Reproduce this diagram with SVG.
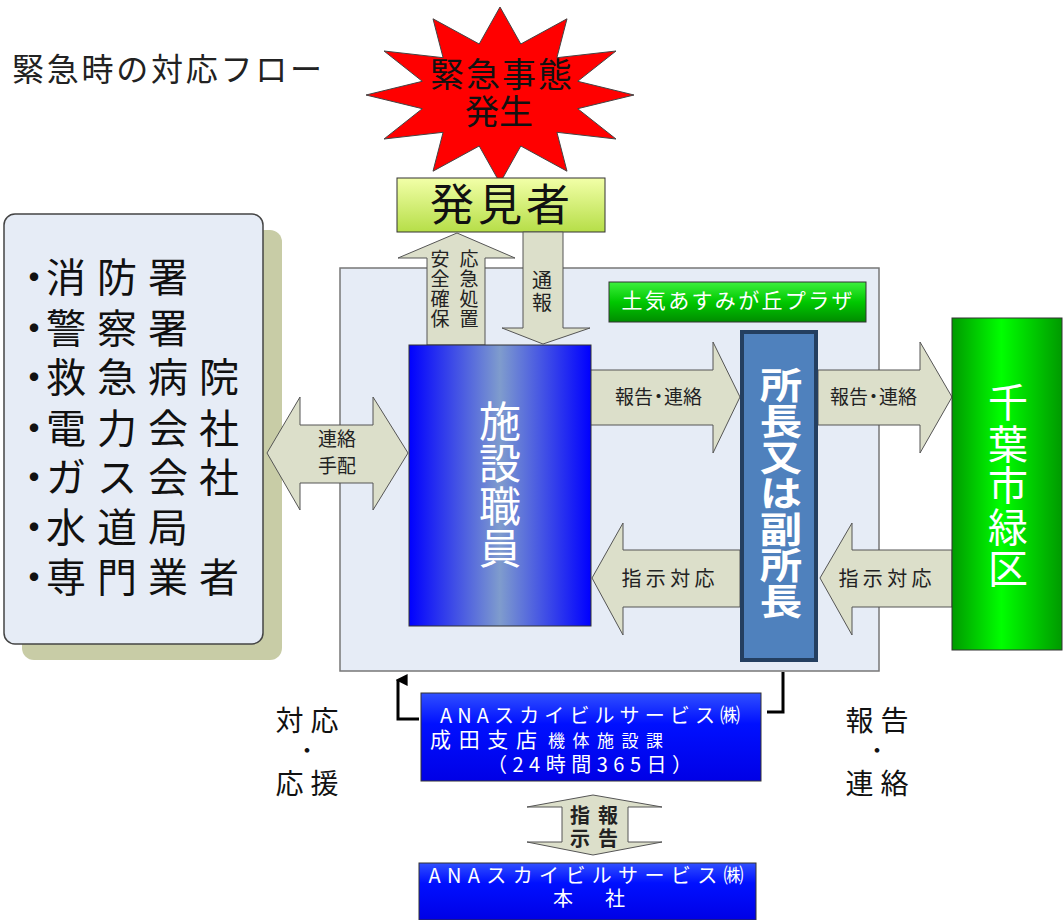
<svg xmlns="http://www.w3.org/2000/svg" width="1064" height="920" viewBox="0 0 1064 920">
<defs>
<linearGradient id="gStaff" x1="0" y1="0" x2="1" y2="0">
<stop offset="0" stop-color="#0000ff"/><stop offset="0.5" stop-color="#7f9ccd"/><stop offset="1" stop-color="#0000ff"/>
</linearGradient>
<linearGradient id="gCity" x1="0" y1="0" x2="1" y2="0">
<stop offset="0" stop-color="#009a00"/><stop offset="0.45" stop-color="#00ff00"/><stop offset="1" stop-color="#009a00"/>
</linearGradient>
<linearGradient id="gPlaza" x1="0" y1="0" x2="0" y2="1">
<stop offset="0" stop-color="#3cf03c"/><stop offset="0.5" stop-color="#00c800"/><stop offset="1" stop-color="#008c00"/>
</linearGradient>
<linearGradient id="gFinder" x1="0" y1="0" x2="0" y2="1">
<stop offset="0" stop-color="#f2ffa8"/><stop offset="1" stop-color="#b6de48"/>
</linearGradient>
<linearGradient id="gAna" x1="0" y1="0" x2="0" y2="1">
<stop offset="0" stop-color="#3050ff"/><stop offset="0.35" stop-color="#0010ff"/><stop offset="1" stop-color="#0000e6"/>
</linearGradient>
<marker id="mUp" viewBox="0 0 10 10" refX="5" refY="2" markerWidth="4" markerHeight="4" orient="auto-start-reverse" markerUnits="strokeWidth">
<path d="M0,10 L5,0 L10,10 Z" fill="#000"/>
</marker>
<style>
text{font-family:"Noto Sans CJK JP","Noto Sans",sans-serif;}
.vert{writing-mode:vertical-rl;}
.arrow{fill:#dcdfca;stroke:#555;stroke-width:1;}
.alabel{font-size:19px;fill:#222;}
.white{fill:#fff;}
.box{stroke:#333;stroke-width:1;}
.list{font-size:40px;fill:#111;letter-spacing:11px;}
.conn{fill:none;stroke:#000;stroke-width:3;}
</style>
</defs>
<rect width="1064" height="920" fill="#fff"/>

<text id="title" x="12" y="81" font-size="32" fill="#222" textLength="310" lengthAdjust="spacing">緊急時の対応フロー</text>

<g id="outside-agencies">
<rect x="22" y="230" width="260" height="430" rx="12" fill="#c8cca6"/>
<rect x="4" y="214" width="259" height="430" rx="11" fill="#e6ecf6" stroke="#444" stroke-width="1.5"/>
<text class="list" x="14" y="292">・<tspan dx="-19">消防署</tspan></text>
<text class="list" x="14" y="343">・<tspan dx="-19">警察署</tspan></text>
<text class="list" x="14" y="392">・<tspan dx="-19">救急病院</tspan></text>
<text class="list" x="14" y="443">・<tspan dx="-19">電力会社</tspan></text>
<text class="list" x="14" y="492">・<tspan dx="-19">ガス会社</tspan></text>
<text class="list" x="14" y="542">・<tspan dx="-19">水道局</tspan></text>
<text class="list" x="14" y="592">・<tspan dx="-19">専門業者</tspan></text>
</g>

<g id="facility-panel">
<rect x="340" y="268" width="539" height="403" fill="#e6ecf6" stroke="#777" stroke-width="1.5"/>
</g>

<g id="emergency">
<polygon points="500,7 520.8,44 567,18.8 556.9,57.7 616,51 577.7,81.3 634,95 577.7,108.7 616,139 556.9,132.3 567,171.2 520.8,146 500,183 479.2,146 433,171.2 443.1,132.3 384,139 422.3,108.7 366,95 422.3,81.3 384,51 443.1,57.7 433,18.8 479.2,44" fill="#ff0000" stroke="#444" stroke-width="1"/>
<text x="501" y="87" font-size="34" text-anchor="middle" fill="#111" textLength="142" lengthAdjust="spacing">緊急事態</text>
<text x="499" y="124" font-size="34" text-anchor="middle" fill="#111">発生</text>
</g>

<g id="finder">
<rect class="box" x="397" y="178" width="208" height="54" fill="url(#gFinder)"/>
<text x="500" y="221" font-size="44" text-anchor="middle" fill="#111" textLength="140" lengthAdjust="spacing">発見者</text>
</g>

<g id="plaza">
<rect class="box" x="609" y="282" width="257" height="40" fill="url(#gPlaza)"/>
<text x="737" y="308" font-size="21" text-anchor="middle" class="white" textLength="231" lengthAdjust="spacing">土気あすみが丘プラザ</text>
</g>

<g id="connectors">
<polygon class="arrow" points="457,233 515,258 485,258 485,345 427,345 427,258 398,258"/>
<text class="vert" x="440" y="249.5" font-size="19" fill="#222" letter-spacing="1">安全確保</text>
<text class="vert" x="469" y="249.5" font-size="19" fill="#222" letter-spacing="1">応急処置</text>

<polygon class="arrow" points="523,232 563,232 563,328 590,328 543,344 502,328 523,328"/>
<text class="vert" x="542" y="270" font-size="20" fill="#222" letter-spacing="2">通報</text>

<polygon class="arrow" points="267,453 300,397 300,425 373,425 373,397 408,453 373,510 373,483 300,483 300,510"/>
<text font-size="19" fill="#222" text-anchor="middle"><tspan x="337" y="446">連絡</tspan><tspan x="337" y="473">手配</tspan></text>

<polygon class="arrow" points="590,370 713,370 713,342 740,397 713,453 713,425 590,425"/>
<text class="alabel" x="615" y="404">報告<tspan dx="-4">・</tspan><tspan dx="-4">連絡</tspan></text>
<polygon class="arrow" points="818,370 920,370 920,342 952,397 920,453 920,425 818,425"/>
<text class="alabel" x="830" y="404">報告<tspan dx="-4">・</tspan><tspan dx="-4">連絡</tspan></text>

<polygon class="arrow" points="740,550 623,550 623,523 592,578 623,635 623,607 740,607"/>
<text x="668" y="586" font-size="20" fill="#222" text-anchor="middle" textLength="93" lengthAdjust="spacing">指示対応</text>
<polygon class="arrow" points="952,550 852,550 852,523 820,578 852,635 852,607 952,607"/>
<text x="885" y="586" font-size="20" fill="#222" text-anchor="middle" textLength="93" lengthAdjust="spacing">指示対応</text>

<path class="conn" d="M419,719 L398,719 L398,680" marker-end="url(#mUp)"/>
<path class="conn" d="M767,712 L783,712 L783,672"/>

<polygon class="arrow" points="593,795 662,807 628,807 628,842 662,842 593,855 527,842 562,842 562,807 527,807"/>
<text class="vert" x="580" y="805" font-size="20" font-weight="bold" fill="#222" letter-spacing="3">指示</text>
<text class="vert" x="608" y="805" font-size="20" font-weight="bold" fill="#222" letter-spacing="3">報告</text>
</g>

<g id="staff">
<rect class="box" x="409" y="345" width="182" height="281" fill="url(#gStaff)"/>
<text class="vert white" x="500" y="400" font-size="42" letter-spacing="0.5">施設職員</text>
</g>

<g id="director">
<rect x="742" y="332" width="74" height="328" fill="#4f81bd" stroke="#243f60" stroke-width="4"/>
<g transform="translate(781,0) scale(1.18,1)">
<text class="vert white" x="0" y="367" font-size="36" font-weight="bold">所長又は副所長</text>
</g>
</g>

<g id="city">
<rect class="box" x="952" y="318" width="110" height="332" fill="url(#gCity)"/>
<text class="vert white" x="1008" y="382" font-size="40" letter-spacing="1.5">千葉市緑区</text>
</g>

<g id="ana-branch">
<rect class="box" x="421" y="693" width="340" height="88" fill="url(#gAna)"/>
<text x="590" y="723" font-size="20" text-anchor="middle" class="white" textLength="300" lengthAdjust="spacing">ANAスカイビルサービス㈱</text>
<text x="430" y="747" font-size="21" class="white" textLength="107" lengthAdjust="spacing">成田支店</text>
<text x="548" y="747" font-size="17" class="white" textLength="115" lengthAdjust="spacing">機体施設課</text>
<text x="487" y="772" font-size="20" class="white" textLength="205" lengthAdjust="spacing">（24時間365日）</text>
</g>

<g id="ana-hq">
<rect class="box" x="419" y="863" width="337" height="57" fill="url(#gAna)"/>
<text x="586" y="883" font-size="20" text-anchor="middle" class="white" textLength="315" lengthAdjust="spacing">ANAスカイビルサービス㈱</text>
<text x="589" y="906" font-size="20" text-anchor="middle" class="white" textLength="72" lengthAdjust="spacing">本　社</text>
</g>

<g id="side-labels" font-size="28" fill="#111" text-anchor="middle">
<text x="307" y="731" textLength="63" lengthAdjust="spacing">対応</text>
<text x="307" y="758" font-size="22">・</text>
<text x="307" y="794" textLength="63" lengthAdjust="spacing">応援</text>
<text x="877" y="731" textLength="63" lengthAdjust="spacing">報告</text>
<text x="877" y="758" font-size="22">・</text>
<text x="877" y="794" textLength="63" lengthAdjust="spacing">連絡</text>
</g>
</svg>
